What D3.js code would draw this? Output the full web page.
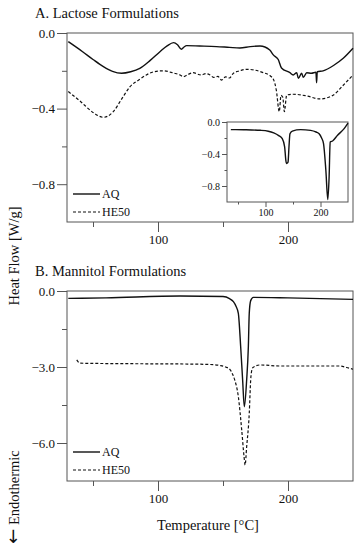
<!DOCTYPE html>
<html>
<head>
<meta charset="utf-8">
<script src="https://cdn.jsdelivr.net/npm/d3@7"></script>
<style>
  body { margin: 0; background: #fff; }
  svg { display: block; font-family: "Liberation Serif", "Times New Roman", serif; }
</style>
</head>
<body>
<div id="chart"></div>
<script>
// DATA (temperature °C, heat flow W/g)
// ================================================================ //
const lactoseAQ = [
    [31, -0.046], [42, -0.099], [50, -0.14], [58, -0.178], [65, -0.203], [72, -0.213],
    [79, -0.205], [86, -0.187], [94, -0.145], [101.5, -0.099], [107, -0.068], [112, -0.051],
    [115, -0.062], [118, -0.086], [120, -0.074], [122, -0.067], [132, -0.069], [145, -0.072],
    [155, -0.076], [163, -0.079], [171, -0.072], [178.5, -0.069], [186, -0.09], [188.7, -0.116],
    [192.5, -0.14], [195, -0.185], [201.5, -0.21], [204, -0.222], [206.7, -0.21], [208, -0.24],
    [210.5, -0.213], [211.8, -0.235], [214.4, -0.21], [218, -0.213], [221.5, -0.208], [222, -0.263],
    [222.5, -0.205], [227, -0.2], [235, -0.172], [242.5, -0.134], [250, -0.081]
];
const lactoseHE50 = [
    [31, -0.31], [40, -0.36], [50, -0.42], [58, -0.446], [65.6, -0.416], [72, -0.35],
    [78.5, -0.284], [86, -0.245], [91, -0.222], [97, -0.205], [104, -0.2], [112, -0.212],
    [117, -0.222], [119.5, -0.231], [123, -0.22], [127, -0.21], [133, -0.222], [137, -0.215],
    [140, -0.222], [143, -0.235], [146, -0.23], [149, -0.249], [152, -0.232], [155, -0.238],
    [158, -0.213], [163, -0.2], [168, -0.192], [175, -0.197], [181, -0.21], [186, -0.225],
    [189, -0.249], [191, -0.302], [193.3, -0.416], [194.6, -0.33], [196, -0.34], [197.2, -0.416],
    [199, -0.328], [204, -0.324], [214.4, -0.333], [224.6, -0.349], [230, -0.343], [235, -0.328],
    [242, -0.28], [250, -0.222]
];
const lactoseInset = [
    [37, -0.095], [60, -0.097], [91, -0.104], [105, -0.115], [115, -0.137], [124, -0.17],
    [130.5, -0.208], [134.8, -0.31], [137, -0.48], [138, -0.52], [140, -0.51], [141, -0.5],
    [142.7, -0.31], [144.5, -0.146], [148.8, -0.113], [164, -0.095], [182, -0.104], [192, -0.125],
    [197.5, -0.146], [202, -0.2], [205.5, -0.27], [209.7, -0.6], [213.3, -0.97], [215.7, -0.68],
    [217.6, -0.25], [222, -0.237], [231, -0.166], [243, -0.083], [250, -0.015]
];
const mannitolAQ = [
    [31, -0.29], [60, -0.27], [117, -0.2], [150, -0.22], [155, -0.3], [158, -0.42], [160, -0.6],
    [161.8, -0.88], [163.6, -2.2], [165.1, -3.51], [166.4, -4.57], [168.2, -3.51], [169.5, -2.2],
    [170.2, -0.88], [171.3, -0.38], [173.3, -0.25], [200, -0.27], [250, -0.33]
];
const mannitolHE50 = [
    [37.5, -2.72], [40, -2.85], [80, -2.87], [117, -2.88], [140, -2.9], [147.7, -2.94],
    [152, -3.0], [155.4, -3.1], [157.5, -3.3], [159, -3.51], [161.8, -4.17], [164.4, -5.49],
    [166.2, -6.54], [167, -6.87], [168.2, -6.15], [170.2, -4.83], [171.3, -3.51], [172.3, -3.1],
    [173.3, -3.01], [178.5, -2.92], [193.8, -2.96], [240, -2.96], [245, -3.02], [250, -3.09]
];

const xMajor = [100, 200];
const xMinor = [50, 150];
const yMajorA = [0, -0.4, -0.8];
const yMinorA = [-0.2, -0.6];
const yMajorB = [0, -3, -6];
const yMinorB = [-1.5, -4.5];
const legendNames = ["AQ", "HE50"];
// ================================================================ //

const width = 361, height = 550;
const plotLeft = 67, plotRight = 353;
const textColor = "#111";

const svg = d3.select("#chart").append("svg")
    .attr("width", width)
    .attr("height", height);

const frameColor = "#555";
const dash = "3,2";

// draws one panel: frame, ticks, curves
const drawPanel = (opts) => {
    const { top, bottom, left, right, yDomain, yMajor, yMinor, series, fontSize, tickLen, inset } = opts;

    const x = d3.scaleLinear().domain([30, 250]).range([left, right]);
    const y = d3.scaleLinear().domain(yDomain).range([bottom, top]);
    const g = svg.append("g");

    if (inset) {
        g.append("rect")
            .attr("x", left).attr("y", top)
            .attr("width", right - left).attr("height", bottom - top)
            .attr("fill", "#fff");
    }

    const styleAxis = (a) => {
        a.selectAll(".domain").remove();
        a.selectAll(".tick line").attr("stroke", frameColor);
        a.selectAll(".tick text")
            .attr("fill", textColor)
            .style("font-size", fontSize + "px")
            .style("font-family", "'Liberation Serif', 'Times New Roman', serif");
    };

    // y ticks
    g.append("g").attr("transform", `translate(${left},0)`)
        .call(d3.axisLeft(y).tickValues(yMajor).tickSize(tickLen).tickPadding(2)
            .tickFormat(d3.format(".1f")))
        .call(styleAxis);
    g.append("g").attr("transform", `translate(${left},0)`)
        .call(d3.axisLeft(y).tickValues(yMinor).tickSize(tickLen / 2).tickFormat(""))
        .call(styleAxis);

    // x ticks
    g.append("g").attr("transform", `translate(0,${bottom})`)
        .call(d3.axisBottom(x).tickValues(xMajor).tickSize(tickLen).tickPadding(inset ? 2 : 3)
            .tickFormat(d3.format("d")))
        .call(styleAxis);
    g.append("g").attr("transform", `translate(0,${bottom})`)
        .call(d3.axisBottom(x).tickValues(xMinor).tickSize(tickLen / 2).tickFormat(""))
        .call(styleAxis);

    // frame
    g.append("rect")
        .attr("x", left).attr("y", top)
        .attr("width", right - left).attr("height", bottom - top)
        .attr("fill", "none")
        .attr("stroke", frameColor)
        .attr("stroke-width", 1);

    const line = d3.line()
        .x(d => x(d[0]))
        .y(d => y(d[1]))
        .curve(d3.curveMonotoneX);

    series.forEach(s => {
        g.append("path")
            .datum(s.data)
            .attr("d", line)
            .attr("fill", "none")
            .attr("stroke", "#111")
            .attr("stroke-width", s.dashed ? 1.2 : 1.4)
            .attr("stroke-dasharray", s.dashed ? dash : null);
    });

    return { x, y, g };
};

const drawLegend = (yTop) => {
    legendNames.forEach((name, i) => {
        const yy = yTop + i * 18;
        svg.append("line")
            .attr("x1", 73).attr("x2", 100)
            .attr("y1", yy).attr("y2", yy)
            .attr("stroke", "#111")
            .attr("stroke-width", i ? 1.2 : 1.4)
            .attr("stroke-dasharray", i ? dash : null);
        svg.append("text")
            .attr("x", 102).attr("y", yy + 4)
            .attr("font-size", 12)
            .attr("fill", textColor)
            .text(name);
    });
};

// Panel A: lactose
drawPanel({
    top: 33, bottom: 222, left: plotLeft, right: plotRight,
    yDomain: [-1.0, 0], yMajor: yMajorA, yMinor: yMinorA,
    fontSize: 13, tickLen: 10,
    series: [{ data: lactoseAQ }, { data: lactoseHE50, dashed: true }]
});
drawLegend(194);

// Inset
drawPanel({
    top: 122, bottom: 202, left: 227, right: 348,
    yDomain: [-1.0, 0], yMajor: yMajorA, yMinor: yMinorA,
    fontSize: 10, tickLen: 5, inset: true,
    series: [{ data: lactoseInset }]
});

// Panel B: mannitol
drawPanel({
    top: 291, bottom: 481, left: plotLeft, right: plotRight,
    yDomain: [-7.5, 0], yMajor: yMajorB, yMinor: yMinorB,
    fontSize: 13, tickLen: 10,
    series: [{ data: mannitolAQ }, { data: mannitolHE50, dashed: true }]
});
drawLegend(452);

// titles and axis labels
svg.append("text").attr("x", 35).attr("y", 18)
    .attr("font-size", 14.5).attr("fill", textColor)
    .text("A. Lactose Formulations");
svg.append("text").attr("x", 35).attr("y", 276)
    .attr("font-size", 14.5).attr("fill", textColor)
    .text("B. Mannitol Formulations");

svg.append("text")
    .attr("transform", "translate(19,256) rotate(-90)")
    .attr("text-anchor", "middle")
    .attr("font-size", 14.5).attr("fill", textColor)
    .text("Heat Flow [W/g]");

const endo = svg.append("text")
    .attr("transform", "translate(19,497) rotate(-90)")
    .attr("text-anchor", "middle")
    .attr("font-size", 14.5).attr("fill", textColor);
endo.append("tspan").attr("font-size", 18).attr("font-family", "DejaVu Sans").text("←");
endo.append("tspan").text(" Endothermic");

svg.append("text")
    .attr("x", 208).attr("y", 530)
    .attr("text-anchor", "middle")
    .attr("font-size", 14.5).attr("fill", textColor)
    .text("Temperature [°C]");
</script>
</body>
</html>
